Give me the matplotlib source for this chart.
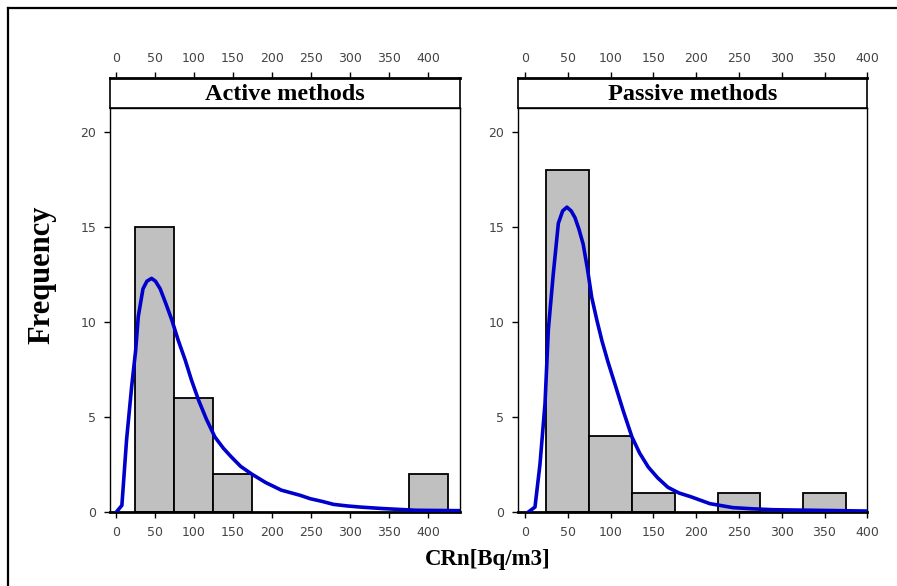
import matplotlib
matplotlib.use("Agg")
import matplotlib.pyplot as plt
from matplotlib.lines import Line2D

# histogram bins (left edge, width 50) and counts
active_left = [25, 75, 125, 375]
active_count = [15, 6, 2, 2]
passive_left = [25, 75, 125, 225, 325]
passive_count = [18, 4, 1, 1, 1]
bin_width = 50

# fitted curves, points
active_cx = [1, 8, 14, 20.5, 25.6, 29, 35, 40, 46, 51, 57, 64, 72, 80, 89, 97, 106, 116, 127, 138,
             148, 160, 174, 192, 212, 236, 249, 265, 279, 296, 313, 342, 385, 441]
active_cy = [0, 0.35, 3.8, 6.6, 8.5, 10.3, 11.75, 12.15, 12.3, 12.15, 11.75, 11.0, 10.1, 9.05, 8.0,
             6.95, 5.9, 4.9, 3.95, 3.35, 2.9, 2.4, 2.0, 1.55, 1.15, 0.88, 0.7, 0.55, 0.4, 0.32,
             0.26, 0.18, 0.09, 0.07]
passive_cx = [4, 11.7, 17.5, 23.4, 27.3, 33, 39, 44, 49, 54, 58.4, 63, 68, 73, 78, 84, 90, 97, 105,
              115, 125, 134, 144, 155, 167, 180, 194, 216, 243, 265, 290, 337, 400]
passive_cy = [0, 0.26, 2.5, 5.7, 9.6, 12.5, 15.2, 15.85, 16.05, 15.85, 15.5, 14.9, 14.1, 12.8,
              11.3, 10.1, 9.0, 7.9, 6.75, 5.3, 3.95, 3.1, 2.37, 1.8, 1.3, 1.0, 0.8, 0.44, 0.23,
              0.17, 0.12, 0.09, 0.05]

xticks = [0, 50, 100, 150, 200, 250, 300, 350, 400]
yticks = [0, 5, 10, 15, 20]

W, H = 897, 586
fig = plt.figure(figsize=(W / 100, H / 100), dpi=100)

serif = "Liberation Serif"
tick_color = "#444444"


def panel(x0, x1, xlim, lefts, counts, cx, cy, title):
    bottom = 1 - 512 / H
    top = 1 - 108 / H
    strip_top = 1 - 78 / H
    ax = fig.add_axes([x0 / W, bottom, (x1 - x0) / W, top - bottom])
    ax.bar(lefts, counts, width=bin_width, align="edge", color="#c0c0c0",
           edgecolor="black", linewidth=1.3, zorder=2)
    ax.plot(cx, cy, color="#0000cc", linewidth=2.6, zorder=3)
    ax.set_xlim(*xlim)
    ax.set_ylim(0, 21.27)
    ax.set_xticks(xticks)
    ax.set_yticks(yticks)
    ax.tick_params(direction="out", length=4, width=1, labelsize=9,
                   labelcolor=tick_color, pad=6)
    for s in ax.spines.values():
        s.set_linewidth(1)
    ax.spines["bottom"].set_linewidth(2)

    st = fig.add_axes([x0 / W, top, (x1 - x0) / W, strip_top - top])
    st.set_xlim(*xlim)
    st.set_ylim(0, 1)
    st.set_yticks([])
    st.set_xticks(xticks)
    st.xaxis.tick_top()
    st.tick_params(direction="out", length=4, width=1, labelsize=9,
                   labelcolor=tick_color, pad=5)
    for s in st.spines.values():
        s.set_linewidth(1.2)
    st.spines["top"].set_linewidth(2)
    st.text(0.5, 0.45, title, transform=st.transAxes, ha="center", va="center",
            fontsize=17.5, fontweight="bold", family=serif)
    return ax


panel(110, 460, (-7.2, 440.6), active_left, active_count, active_cx, active_cy, "Active methods")
panel(518.3, 867.3, (-7.8, 400), passive_left, passive_count, passive_cx, passive_cy, "Passive methods")

fig.text(42 / W, 1 - 275 / H, "Frequency", rotation=90, ha="center", va="center",
         fontsize=22, fontweight="bold", family=serif)
fig.text(488 / W, 1 - 560 / H, "CRn[Bq/m3]", ha="center", va="center",
         fontsize=16.5, fontweight="bold", family=serif)

# outer frame (only left and top edges are visible in the crop)
fig.add_artist(Line2D([8 / W, 8 / W], [0, 1 - 8 / H], color="black", linewidth=1.6))
fig.add_artist(Line2D([8 / W, 1], [1 - 8 / H, 1 - 8 / H], color="black", linewidth=1.6))

fig.savefig("out.png", dpi=100)
